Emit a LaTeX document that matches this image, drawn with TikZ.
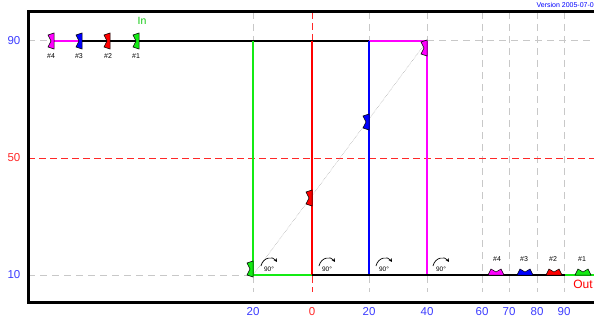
\documentclass[tikz,border=0pt]{standalone}
\usepackage{fontspec}
\setmainfont{Liberation Sans}
\usetikzlibrary{arrows.meta}
\definecolor{cgreen}{RGB}{20,235,20}
\definecolor{cmag}{RGB}{255,0,255}
\definecolor{cblue}{RGB}{0,0,255}
\definecolor{cred}{RGB}{255,0,0}
\definecolor{lblue}{RGB}{60,60,255}
\definecolor{lred}{RGB}{255,40,40}
\definecolor{grid}{RGB}{200,200,200}
\tikzset{
  gridline/.style={draw=grid,line width=1pt,dash pattern=on 7pt off 5pt},
  redgrid/.style={draw=lred,line width=1pt,dash pattern=on 7pt off 4pt},
  track/.style={line width=1.8pt},
  axlab/.style={font=\fontsize{11.5}{11.5}\selectfont,inner sep=0pt},
  numlab/.style={font=\fontsize{7}{7}\selectfont,inner sep=0pt},
  rotlab/.style={font=\fontsize{6.5}{6.5}\selectfont,inner sep=0pt},
  pics/vmark/.style={code={\filldraw[fill=#1,draw=black,line width=0.5pt]
    (0,-8) -- (-6,-6) -- (-3,0) -- (-6,6) -- (0,8) -- cycle;}},
  pics/hmark/.style={code={\filldraw[fill=#1,draw=black,line width=0.5pt]
    (-8,0) -- (-5,-6) -- (0,-3) -- (5,-6) -- (8,0) -- cycle;}},
  pics/rot/.style={code={
    \node[rotlab] (t) at (0,0) {90°};
    \draw[line width=0.7pt,-{Stealth[length=3.5pt,width=3.5pt]}] (-8,-3) .. controls (-6,-12) and (4,-13) .. (8,-7);}}
}
\begin{document}
\begin{tikzpicture}[x=1pt,y=-1pt]
\useasboundingbox (0,0) rectangle (594,321);
% coordinates
\coordinate (L90) at (28,41);
\coordinate (L50) at (28,158);
\coordinate (L10) at (28,275);
\coordinate (R90) at (594,41);
\coordinate (R50) at (594,158);
\coordinate (G90) at (253,41);
\coordinate (G10) at (253,275);
\coordinate (Rd90) at (312,41);
\coordinate (Rd10) at (312,275);
\coordinate (B90) at (369,41);
\coordinate (B10) at (369,275);
\coordinate (M90) at (427,41);
\coordinate (M10) at (427,275);
\coordinate (O90) at (565,275);
\coordinate (OE) at (594,275);
\coordinate (I4) at (54,41);
\coordinate (I3) at (82,41);
% grid
\foreach \x/\n in {253/a,369/b,427/c,482/d,509/e,537/f,564/g}{
  \draw[gridline] (\x,12) -- (\x,292);}
\draw[redgrid] (312,12) -- (312,292);
\draw[redgrid] (L50) -- (R50);
\draw[gridline] (L10) -- (G10);
\draw[gridline] (L90) -- (I4);
\draw[gridline] (M90) -- (R90);
% diagonal
\draw[grid!80!black,line width=0.5pt,densely dotted] (G10) -- (M90);
% frame
\draw[line width=3pt] (594,12) -- (28,12) -- (28,302) -- (594,302);
% tracks
\draw[track,cmag] (I4) -- (I3);
\draw[track,black] (I3) -- (B90);
\draw[track,cmag] (B90) -- (M90);
\draw[track,cgreen] (G90) -- (G10) -- (Rd10);
\draw[track,cred] (Rd90) -- (Rd10);
\draw[track,cblue] (B90) -- (B10);
\draw[track,cmag] (M90) -- (M10);
\draw[track,black] (Rd10) -- (O90);
\draw[track,cgreen] (O90) -- (OE);
% input markers
\pic at (54,41) {vmark=cmag};
\pic at (82,41) {vmark=cblue};
\pic at (110,41) {vmark=cred};
\pic at (139,41) {vmark=cgreen};
\node[numlab] (n4) at (51,56) {\#4};
\node[numlab] (n3) at (79,56) {\#3};
\node[numlab] (n2) at (108,56) {\#2};
\node[numlab] (n1) at (136,56) {\#1};
\node[font=\fontsize{10.5}{10.5}\selectfont,text=cgreen!85!black,inner sep=0pt] (in) at (142,21) {In};
% diagonal markers
\pic at (253,269) {vmark=cgreen};
\pic at (312,198) {vmark=cred};
\pic at (369,122) {vmark=cblue};
\pic at (427,48) {vmark=cmag};
% output markers
\pic at (496,275) {hmark=cmag};
\pic at (525,275) {hmark=cblue};
\pic at (554,275) {hmark=cred};
\pic at (583,275) {hmark=cgreen};
\node[numlab] (o4) at (497,259) {\#4};
\node[numlab] (o3) at (524,259) {\#3};
\node[numlab] (o2) at (553,259) {\#2};
\node[numlab] (o1) at (582,259) {\#1};
\node[font=\fontsize{12}{12}\selectfont,text=cred,inner sep=0pt] (out) at (583,284) {Out};
% rotation symbols
\pic at (269,269) {rot};
\pic at (327,269) {rot};
\pic at (384,269) {rot};
\pic at (441,269) {rot};
% axis labels
\node[axlab,text=lblue] (y90) at (14,41) {90};
\node[axlab,text=lred] (y50) at (14,158) {50};
\node[axlab,text=lblue] (y10) at (14,275) {10};
\node[axlab,text=lblue] (x1) at (253,312) {20};
\node[axlab,text=lred] (x2) at (312,312) {0};
\node[axlab,text=lblue] (x3) at (369,312) {20};
\node[axlab,text=lblue] (x4) at (427,312) {40};
\node[axlab,text=lblue] (x5) at (482,312) {60};
\node[axlab,text=lblue] (x6) at (509,312) {70};
\node[axlab,text=lblue] (x7) at (537,312) {80};
\node[axlab,text=lblue] (x8) at (564,312) {90};
\node[font=\fontsize{7}{7}\selectfont,text=cblue,anchor=east,inner sep=0pt] (ver) at (594,5) {Version 2005-07-0};
\end{tikzpicture}
\end{document}
